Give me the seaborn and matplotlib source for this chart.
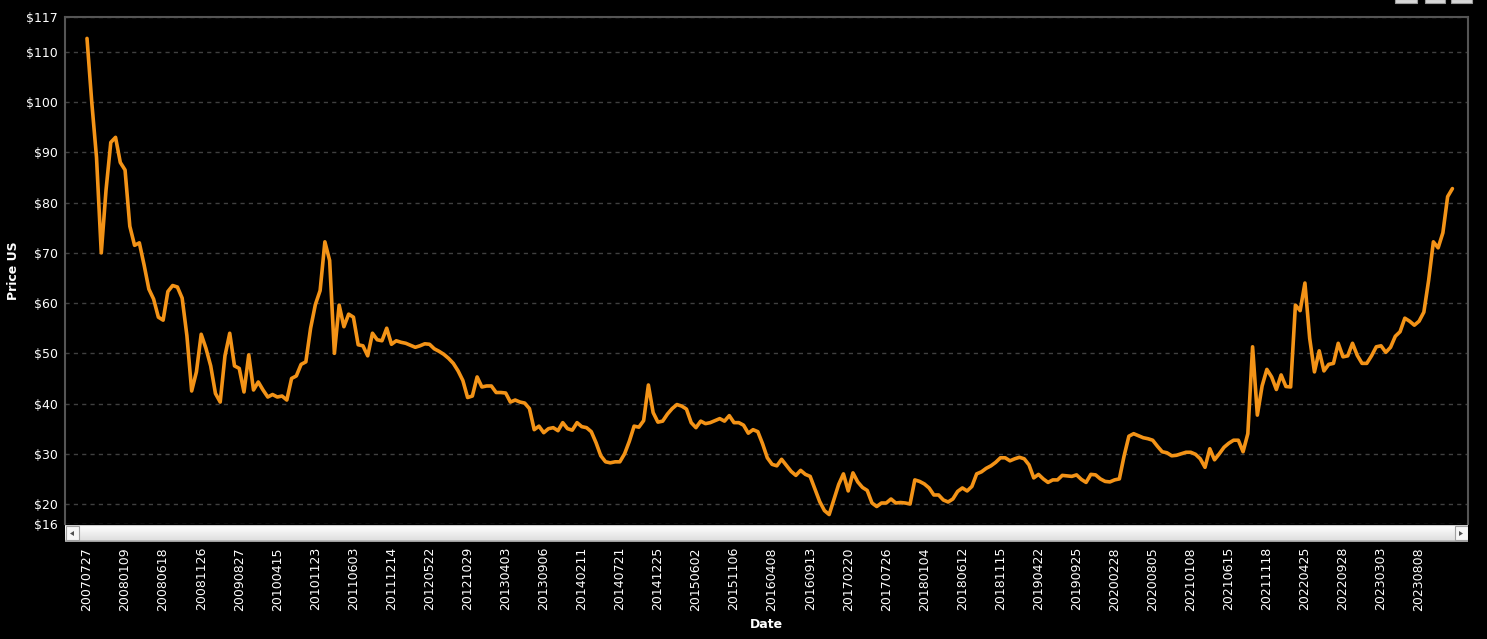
import numpy as np
import matplotlib
matplotlib.use('Agg')
import matplotlib.pyplot as plt
import seaborn as sns
from matplotlib.patches import Rectangle, Polygon

# tick labels: one date every 8 observations
dates = ['20070727', '20080109', '20080618', '20081126', '20090827', '20100415',
         '20101123', '20110603', '20111214', '20120522', '20121029', '20130403',
         '20130906', '20140211', '20140721', '20141225', '20150602', '20151106',
         '20160408', '20160913', '20170220', '20170726', '20180104', '20180612',
         '20181115', '20190422', '20190925', '20200228', '20200805', '20210108',
         '20210615', '20211118', '20220425', '20220928', '20230303', '20230808']
step = 8

# price in US$
prices = [
    112.7, 100, 89, 70, 82.5, 92, 93, 88,
    86.5, 75.3, 71.5, 72, 67.6, 62.8, 60.8, 57.2,
    56.6, 62.3, 63.5, 63.2, 61, 53.5, 42.5, 46.3,
    53.8, 51, 47.5, 42, 40.3, 49.5, 54, 47.5,
    47, 42.3, 49.7, 42.7, 44.3, 42.7, 41.3, 41.8,
    41.3, 41.5, 40.7, 45, 45.5, 47.8, 48.3, 55,
    59.7, 62.5, 72.2, 68.5, 50, 59.6, 55.3, 57.8,
    57.2, 51.7, 51.5, 49.5, 54, 52.7, 52.5, 55,
    51.8, 52.5, 52.2, 52, 51.6, 51.2, 51.5, 51.9,
    51.8, 50.9, 50.4, 49.8, 49, 48, 46.5, 44.6,
    41.2, 41.5, 45.3, 43.3, 43.5, 43.5, 42.2, 42.2,
    42.1, 40.3, 40.7, 40.3, 40.1, 39, 34.8, 35.5,
    34.2, 35, 35.2, 34.6, 36.2, 35, 34.7, 36.2,
    35.4, 35.2, 34.4, 32.2, 29.6, 28.4, 28.2, 28.4,
    28.4, 30, 32.5, 35.5, 35.3, 36.6, 43.7, 38.2,
    36.3, 36.5, 37.9, 39, 39.8, 39.5, 38.9, 36.2,
    35.2, 36.5, 36, 36.2, 36.6, 37, 36.5, 37.6,
    36.2, 36.2, 35.7, 34.1, 34.8, 34.4, 32, 29.2,
    27.9, 27.6, 28.9, 27.7, 26.5, 25.7, 26.7, 25.9,
    25.5, 23, 20.5, 18.7, 17.9, 20.9, 23.9, 26,
    22.6, 26.2, 24.4, 23.3, 22.7, 20.2, 19.5, 20.2,
    20.2, 21, 20.2, 20.3, 20.2, 20, 24.8, 24.5,
    24, 23.2, 21.8, 21.8, 20.8, 20.4, 21, 22.5,
    23.2, 22.6, 23.5, 26, 26.4, 27.1, 27.6, 28.3,
    29.2, 29.2, 28.6, 29, 29.3, 29, 27.8, 25.2,
    25.9, 25, 24.3, 24.8, 24.8, 25.7, 25.6, 25.5,
    25.8, 24.9, 24.3, 25.9, 25.8, 25, 24.5, 24.4,
    24.8, 25, 29.6, 33.5, 34, 33.6, 33.2, 33,
    32.7, 31.5, 30.4, 30.2, 29.6, 29.7, 30, 30.3,
    30.3, 29.9, 29, 27.3, 31, 28.8, 30, 31.3,
    32.1, 32.7, 32.7, 30.4, 34, 51.3, 37.7, 43.5,
    46.8, 45.3, 42.8, 45.7, 43.4, 43.3, 59.6, 58.5,
    64, 53, 46.3, 50.5, 46.5, 47.8, 48, 52,
    49.3, 49.5, 52, 49.6, 48, 48, 49.5, 51.3,
    51.5, 50.2, 51.2, 53.4, 54.3, 57, 56.4, 55.6,
    56.4, 58.2, 64.5, 72.2, 71, 74, 81.2, 82.8,
]
y_ticks = [16, 20, 30, 40, 50, 60, 70, 80, 90, 100, 110, 117]

sns.set_theme(style='dark')
plt.rcParams['font.family'] = ['DejaVu Sans']

W, H = 1487, 639
fig = plt.figure(figsize=(W / 100, H / 100), dpi=100, facecolor='black')
ax = fig.add_axes([65 / W, 1 - 524.1 / H, 1403 / W, (524.1 - 16.8) / H])
ax.set_facecolor('black')

x = np.arange(len(prices))
sns.lineplot(x=x, y=prices, ax=ax, color='#f39317', linewidth=2.6,
             solid_joinstyle='round', solid_capstyle='round')

px = 4.7575  # pixels per observation
ax.set_xlim(-22 / px, (1468 - 87) / px)
ax.set_ylim(16, 117)
ax.set_yticks(y_ticks)
ax.set_yticklabels(['$' + str(v) for v in y_ticks])
ax.set_xticks(x[::step])
ax.set_xticklabels(dates, rotation=90)

ax.grid(False)
ax.grid(axis='y', color='#404040', linestyle=(0, (3, 3)), linewidth=1.0)
ax.tick_params(axis='y', colors='white', labelsize=9, length=0, pad=5)
ax.tick_params(axis='x', colors='white', labelsize=9, length=0, pad=16.5)
for side in ['left', 'top', 'right']:
    ax.spines[side].set_color('#555555')
    ax.spines[side].set_linewidth(1.5)
    ax.spines[side].set_visible(True)
ax.spines['bottom'].set_visible(False)

ax.set_ylabel('Price US', color='white', fontsize=9, fontweight='bold')
ax.yaxis.set_label_coords(-0.032, 0.5)
ax.set_xlabel('Date', color='white', fontsize=9, fontweight='bold')
ax.xaxis.set_label_coords(0.5, -0.185)

# scrollbar under the plot
sb = fig.add_axes([65 / W, 1 - 541.7 / H, 1403 / W, 16.5 / H])
grad = np.linspace(0.86, 1.0, 32).reshape(-1, 1)
grad[:3] = 0.62
grad[-2:] = 0.8
sb.imshow(grad, aspect='auto', cmap='gray', vmin=0, vmax=1,
          extent=(0, 1403, 0, 16.5), origin='lower')
sb.set_xlim(0, 1403)
sb.set_ylim(0, 16.5)
sb.axis('off')
for x0, tri in [(0, [(5, 8.2), (9, 5.7), (9, 10.7)]),
                (1389, [(1398, 8.2), (1394, 5.7), (1394, 10.7)])]:
    sb.add_patch(Rectangle((x0 + 0.5, 1.5), 13.5, 14, facecolor='#f6f6f6',
                           edgecolor='#a0a0a0', linewidth=0.8))
    sb.add_patch(Polygon(tri, closed=True, facecolor='#505050', edgecolor='none'))

# toolbar buttons cut off at the top right
for x0, x1 in [(1395, 1417), (1425, 1445), (1451, 1472)]:
    fig.add_artist(Rectangle((x0 / W, 1 - 3 / H), (x1 - x0) / W, 4 / H,
                             transform=fig.transFigure, facecolor='#d8d8d8',
                             edgecolor='#9a9a9a', linewidth=0.8))

fig.savefig('out.png', dpi=100, facecolor='black')
